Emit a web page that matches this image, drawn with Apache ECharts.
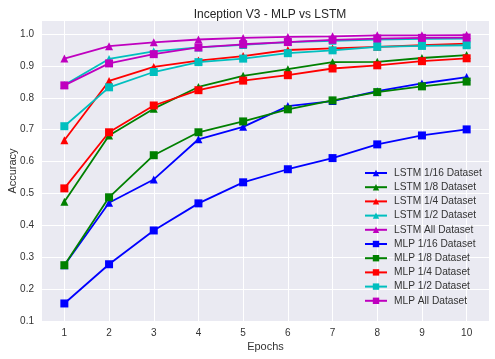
<!DOCTYPE html>
<html>
<head>
<meta charset="utf-8">
<script src="https://cdn.jsdelivr.net/npm/echarts@6/dist/echarts.min.js"></script>
<style>html,body{margin:0;padding:0;background:#fff}#c{width:495px;height:359px}</style>
</head>
<body>
<div id="c"></div>
<script>
const epochs = ['1','2','3','4','5','6','7','8','9','10'];
const lstm16 = [0.275, 0.471, 0.544, 0.670, 0.709, 0.774, 0.790, 0.821, 0.845, 0.865];
const lstm8  = [0.474, 0.682, 0.766, 0.834, 0.869, 0.890, 0.912, 0.913, 0.925, 0.934];
const lstm4  = [0.667, 0.853, 0.897, 0.917, 0.931, 0.950, 0.955, 0.960, 0.965, 0.970];
const lstm2  = [0.840, 0.922, 0.946, 0.958, 0.966, 0.975, 0.979, 0.983, 0.985, 0.986];
const lstmAll= [0.923, 0.962, 0.974, 0.983, 0.988, 0.991, 0.993, 0.996, 0.996, 0.997];
const mlp16  = [0.155, 0.278, 0.384, 0.469, 0.535, 0.576, 0.611, 0.654, 0.682, 0.701];
const mlp8   = [0.275, 0.488, 0.620, 0.692, 0.726, 0.764, 0.792, 0.818, 0.836, 0.851];
const mlp4   = [0.516, 0.692, 0.776, 0.824, 0.854, 0.871, 0.892, 0.902, 0.915, 0.924];
const mlp2   = [0.711, 0.833, 0.881, 0.912, 0.923, 0.940, 0.949, 0.960, 0.963, 0.965];
const mlpAll = [0.839, 0.908, 0.937, 0.958, 0.968, 0.975, 0.982, 0.986, 0.988, 0.989];
const seriesNames = ['LSTM 1/16 Dataset','LSTM 1/8 Dataset','LSTM 1/4 Dataset','LSTM 1/2 Dataset','LSTM All Dataset',
  'MLP 1/16 Dataset','MLP 1/8 Dataset','MLP 1/4 Dataset','MLP 1/2 Dataset','MLP All Dataset'];
const seriesData = [lstm16, lstm8, lstm4, lstm2, lstmAll, mlp16, mlp8, mlp4, mlp2, mlpAll];
const palette = ['#0000FF','#008000','#FF0000','#00BFBF','#BF00BF'];

const FONT = 'Liberation Sans';
const TXT = '#333333';
const series = seriesData.map((d, i) => {
  const isLstm = i < 5;
  const col = palette[i % 5];
  return {
    name: seriesNames[i],
    type: 'line',
    data: d,
    symbol: isLstm ? 'triangle' : 'rect',
    symbolSize: 8,
    showAllSymbol: true,
    lineStyle: {color: col, width: 1.8},
    itemStyle: {color: col},
    emphasis: {disabled: true},
    animation: false
  };
});

const chart = echarts.init(document.getElementById('c'), null, {renderer: 'canvas'});
chart.setOption({
  animation: false,
  title: {
    text: 'Inception V3 - MLP vs LSTM',
    left: 265, top: 4, textAlign: 'center',
    textStyle: {fontFamily: FONT, fontSize: 12, fontWeight: 'normal', color: '#262626'}
  },
  legend: {
    orient: 'vertical',
    left: 359, top: 163,
    itemWidth: 22, itemHeight: 8, itemGap: 4.2,
    textStyle: {fontFamily: FONT, fontSize: 10.2, color: TXT, padding: [0,0,0,2]},
    data: seriesNames
  },
  grid: {
    left: 42, right: 6, top: 21, bottom: 38,
    outerBoundsMode: 'none', containLabel: false,
    show: true, backgroundColor: '#EAEAF2', borderWidth: 0
  },
  xAxis: {
    type: 'category',
    data: epochs,
    boundaryGap: true,
    name: 'Epochs', nameLocation: 'middle', nameGap: 20, nameMoveOverlap: false,
    nameTextStyle: {fontFamily: FONT, fontSize: 11, color: TXT},
    axisLine: {show: false},
    axisTick: {show: false, alignWithLabel: true},
    axisLabel: {fontFamily: FONT, fontSize: 10, color: TXT, margin: 7},
    splitLine: {show: true, alignWithLabel: true, lineStyle: {color: '#ffffff', width: 1}}
  },
  yAxis: {
    type: 'value',
    min: 0.1, max: 1.041, interval: 0.1,
    name: 'Accuracy', nameLocation: 'middle', nameGap: 24, nameMoveOverlap: false,
    nameTextStyle: {fontFamily: FONT, fontSize: 11, color: TXT},
    axisLine: {show: false},
    axisTick: {show: false},
    axisLabel: {fontFamily: FONT, fontSize: 10, color: TXT, margin: 8, showMaxLabel: false,
      formatter: v => v.toFixed(1)},
    splitLine: {show: true, showMaxLine: false, lineStyle: {color: '#ffffff', width: 1}}
  },
  series: series
});
</script>
</body>
</html>
